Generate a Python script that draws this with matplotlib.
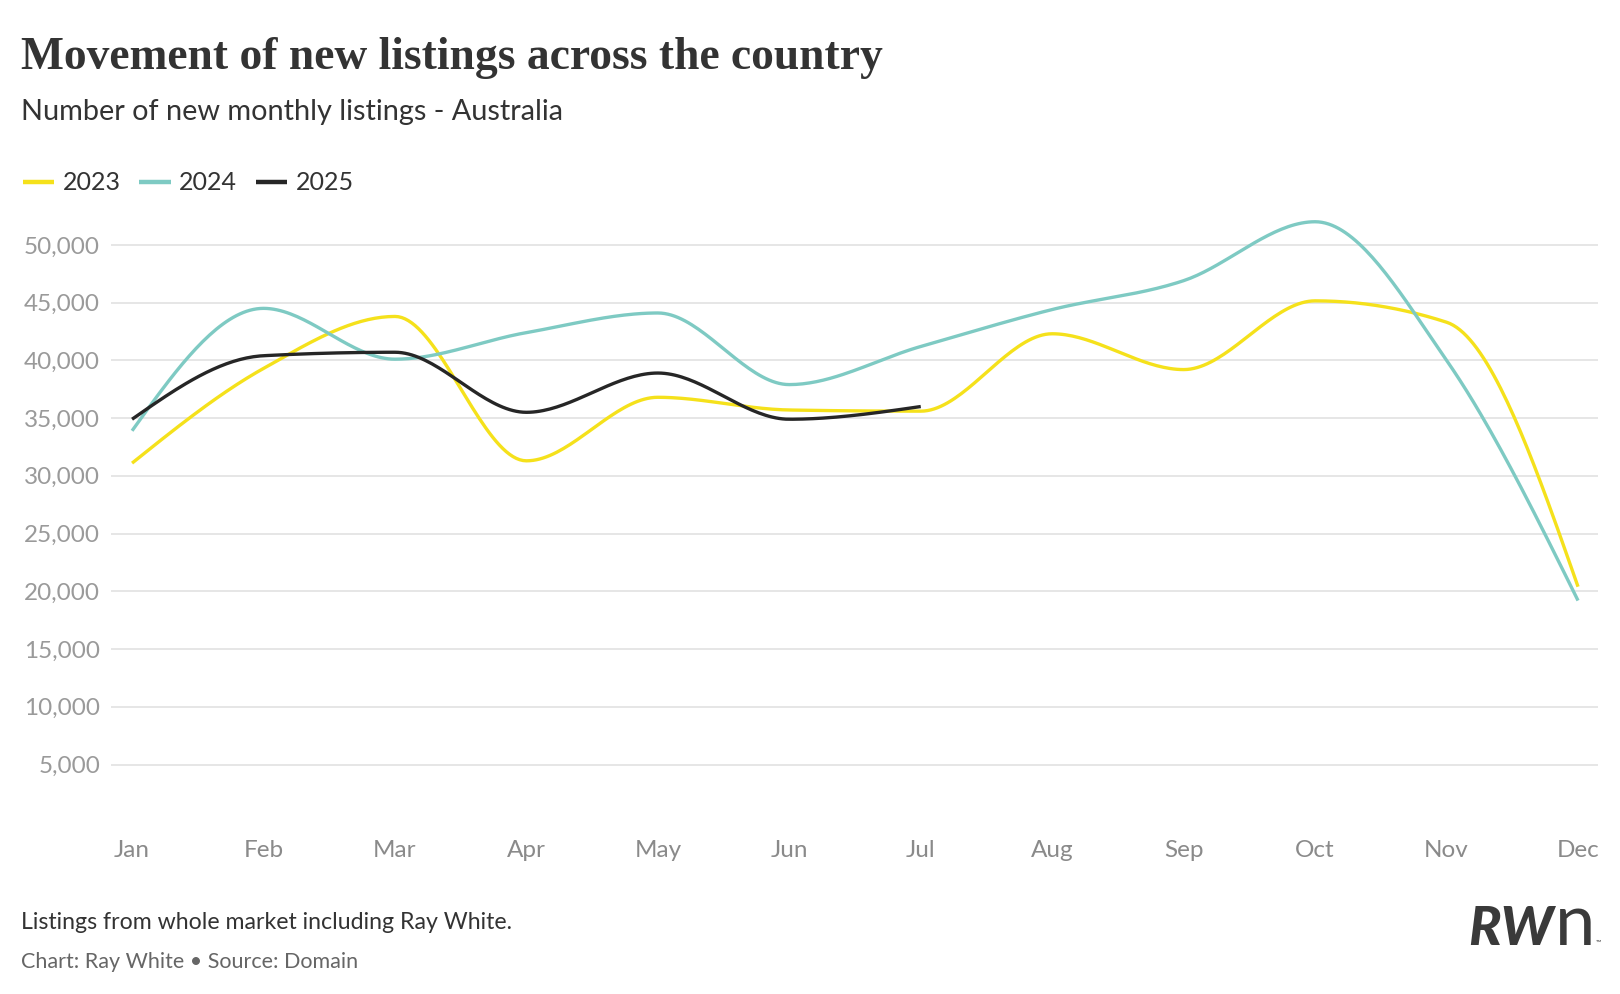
"""
Movement of new listings across the country - Ray White style line chart
"""
import numpy as np
import matplotlib.pyplot as plt

# 数据
months = ['Jan', 'Feb', 'Mar', 'Apr', 'May', 'Jun', 'Jul', 'Aug', 'Sep', 'Oct', 'Nov', 'Dec']
listings_2023 = [31100, 39300, 43800, 31300, 36800, 35700, 35600, 42300, 39200, 45150, 43300, 20400]
listings_2024 = [33900, 44500, 40100, 42400, 44100, 37900, 41200, 44400, 46900, 52000, 40000, 19200]
listings_2025 = [34900, 40400, 40700, 35500, 38900, 34900, 36000]
series_names = ['2023', '2024', '2025']
y_ticks = [5000, 10000, 15000, 20000, 25000, 30000, 35000, 40000, 45000, 50000]

COLORS = ['#f5e11b', '#7ecac3', '#262626']
W, H = 1620, 994


def monotone_x(xs, ys, n=40):
    """d3 curveMonotoneX 插值"""
    xs = np.asarray(xs, float)
    ys = np.asarray(ys, float)
    m = len(xs)
    if m < 3:
        return xs, ys
    h = np.diff(xs)
    s = np.diff(ys) / h
    t = np.zeros(m)
    for i in range(1, m - 1):
        h0, h1 = h[i - 1], h[i]
        s0, s1 = s[i - 1], s[i]
        p = (s0 * h1 + s1 * h0) / (h0 + h1)
        t[i] = (np.sign(s0) + np.sign(s1)) * min(abs(s0), abs(s1), 0.5 * abs(p))
    t[0] = (3 * s[0] - t[1]) / 2
    t[-1] = (3 * s[-1] - t[-2]) / 2
    out_x, out_y = [], []
    for i in range(m - 1):
        u = np.linspace(0, 1, n)
        dx = h[i]
        h00 = 2 * u**3 - 3 * u**2 + 1
        h10 = u**3 - 2 * u**2 + u
        h01 = -2 * u**3 + 3 * u**2
        h11 = u**3 - u**2
        yy = h00 * ys[i] + h10 * dx * t[i] + h01 * ys[i + 1] + h11 * dx * t[i + 1]
        xx = xs[i] + u * dx
        if i > 0:
            xx, yy = xx[1:], yy[1:]
        out_x.extend(xx)
        out_y.extend(yy)
    return np.array(out_x), np.array(out_y)


plt.rcParams['font.family'] = ['Lato', 'DejaVu Sans']

fig = plt.figure(figsize=(W / 100, H / 100), dpi=100)
fig.patch.set_facecolor('white')

left, right = 110.5 / W, 1598 / W
bottom, top = (H - 822.3) / H, (H - 187.1) / H
ax = fig.add_axes([left, bottom, right - left, top - bottom])

handles = []
for name, vals, color in zip(series_names, [listings_2023, listings_2024, listings_2025], COLORS):
    x = np.arange(len(vals))
    sx, sy = monotone_x(x, vals)
    line, = ax.plot(sx, sy, color=color, lw=2.4, solid_capstyle='butt', label=name, zorder=3)
    handles.append(line)

ax.set_xlim(-0.164, 11.152)
ax.set_ylim(0, 55000)
ax.set_xticks(range(len(months)))
ax.set_xticklabels(months)
ax.set_yticks(y_ticks)
ax.set_yticklabels([f'{v:,}' for v in y_ticks])
ax.tick_params(axis='both', length=0, labelsize=17.5, colors='#9a9a9a')
ax.tick_params(axis='y', pad=7.5)
ax.tick_params(axis='x', pad=12.5)
for lab in ax.get_xticklabels():
    lab.set_color('#8a8a8a')
ax.grid(axis='y', color='#e4e4e4', lw=1.3)
ax.set_axisbelow(True)
for sp in ax.spines.values():
    sp.set_visible(False)

# 标题
fig.text(20.7 / W, 1 - 69 / H, 'Movement of new listings across the country',
         family='Liberation Serif', fontweight='bold', fontsize=32.8,
         color='#333333', va='baseline', ha='left')
fig.text(20.7 / W, 1 - 111.6 / H, 'Number of new monthly listings - Australia',
         fontsize=20.8, color='#333333', va='center', ha='left')

# 图例
leg = fig.legend(handles=handles, loc='center left', bbox_to_anchor=(0 / W, 1 - 183 / H),
                 ncol=3, frameon=False, fontsize=18, handlelength=1.25, handletextpad=0.35,
                 columnspacing=0.75, labelcolor='#333333')
for lh in leg.get_lines():
    lh.set_linewidth(3.2)

# 脚注
fig.text(20.7 / W, 1 - 922.5 / H, 'Listings from whole market including Ray White.',
         fontsize=16.7, color='#333333', va='center', ha='left')
fig.text(20.7 / W, 1 - 962 / H, 'Chart: Ray White \u2022 Source: Domain',
         fontsize=15.5, color='#666666', va='center', ha='left')

# Logo
rw = fig.text(1468 / W, 1 - 945 / H, 'RW', fontsize=39, fontweight='black', style='italic',
              color='#3a3a3a', va='baseline', ha='left')
renderer = fig.canvas.get_renderer()
bb = rw.get_window_extent(renderer)
n_txt = fig.text((bb.x1 + 1) / W, 1 - 945 / H, 'n', fontsize=52, fontweight='normal',
                 color='#3a3a3a', va='baseline', ha='left')
bb2 = n_txt.get_window_extent(renderer)
fig.text((bb2.x1 + 1) / W, 1 - 945 / H, '\u2122', fontsize=5, color='#3a3a3a',
         va='baseline', ha='left')

fig.savefig('out.png', dpi=100, facecolor='white')
